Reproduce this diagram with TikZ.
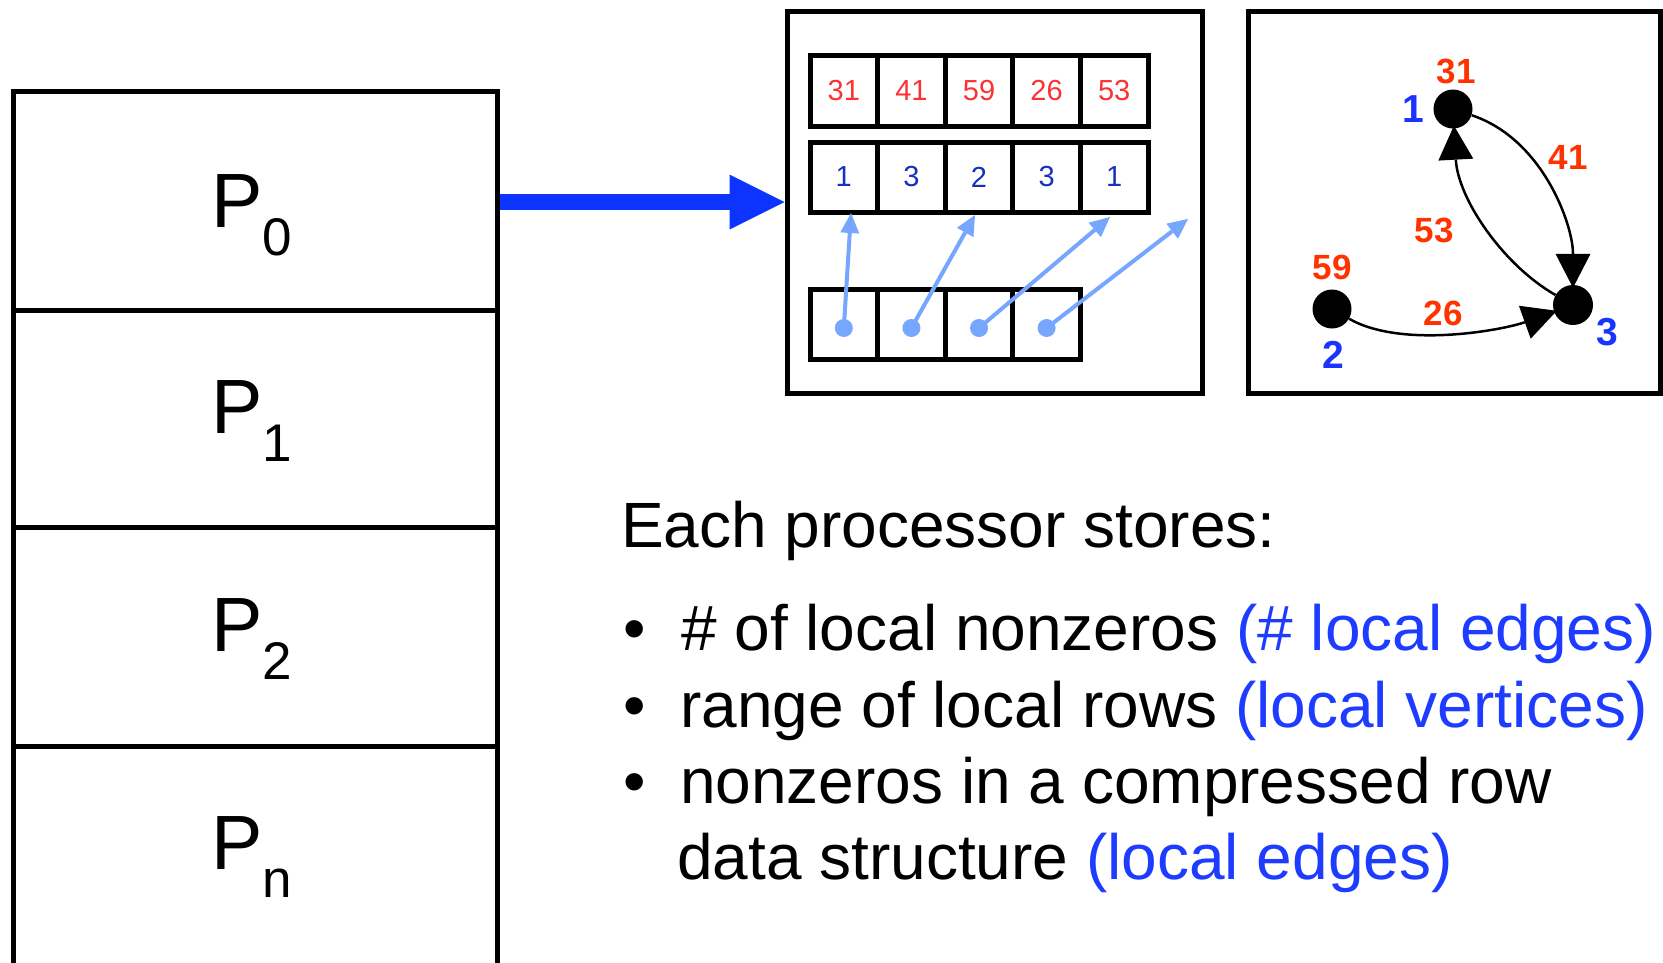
\documentclass[tikz,border=0pt]{standalone}
\usepackage{fontspec}
\setmainfont{Liberation Sans}
\usetikzlibrary{arrows.meta}
\definecolor{arred}{RGB}{250,50,50}
\definecolor{arblue}{RGB}{20,50,190}
\definecolor{gred}{RGB}{255,51,0}
\definecolor{gblue}{RGB}{26,51,255}
\definecolor{bigblue}{RGB}{13,51,255}
\definecolor{tblue}{RGB}{30,60,255}
\definecolor{lblue}{RGB}{119,166,255}
\newcommand\psub[1]{\raisebox{-28pt}{\fontsize{53}{60}\selectfont #1}}
\begin{document}
\begin{tikzpicture}[x=1pt,y=-1pt,
  pcell/.style={draw, line width=5pt, minimum width=484pt, inner sep=0pt, rectangle},
  plab/.style={anchor=base west, inner sep=0pt, font=\fontsize{77}{90}\selectfont},
  frame/.style={draw, line width=5pt, inner sep=0pt, rectangle},
  acell/.style={draw, line width=5pt, minimum width=67.6pt, inner sep=0pt, rectangle, font=\fontsize{29}{30}\selectfont},
  dotn/.style={circle, fill=lblue, minimum size=18pt, inner sep=0pt},
  larrow/.style={draw=lblue, line width=4pt, -{Triangle[length=20pt,width=19pt,line width=0pt]}},
  gnode/.style={circle, fill=black, minimum size=39pt, inner sep=0pt},
  gedge/.style={line width=2.5pt, -{Triangle[length=34pt,width=35pt,line width=0pt]}, shorten >=-3pt},
  rlab/.style={inner sep=0pt, text=gred, font=\fontsize{35}{36}\selectfont\bfseries},
  blab/.style={inner sep=0pt, text=gblue, font=\fontsize{39}{40}\selectfont\bfseries},
  txt/.style={anchor=base west, inner sep=0pt, font=\fontsize{64}{70}\selectfont}
]
\useasboundingbox[fill=white] (0,0) rectangle (1663,962);

% processor stack
\node[pcell, minimum height=219pt] (p0) at (255,200.5) {};
\node[pcell, minimum height=217pt] (p1) at (255,418.5) {};
\node[pcell, minimum height=219pt] (p2) at (255,636.5) {};
\node[pcell, minimum height=230pt] (p3) at (255,861) {};
\node[plab] (lp0) at (211,227) {P\psub{0}};
\node[plab] (lp1) at (211,433) {P\psub{1}};
\node[plab] (lp2) at (211,651) {P\psub{2}};
\node[plab] (lp3) at (211,869) {P\psub{n}};

% frames
\node[frame, minimum width=415pt, minimum height=382pt] (mbox) at (994.5,202) {};
\node[frame, minimum width=412pt, minimum height=382pt] (gbox) at (1454,202) {};

% big arrow
\draw[bigblue, line width=16pt, -{Triangle[length=55pt,width=55pt,line width=0pt]}]
  (p0.east |- mbox.west) -- (mbox.west);

% arrays
\node[acell, minimum height=71pt, text=arred] (a1) at (843.8,90.5) {31};
\node[acell, minimum height=71pt, text=arred] (a2) at (911.4,90.5) {41};
\node[acell, minimum height=71pt, text=arred] (a3) at (979.0,90.5) {59};
\node[acell, minimum height=71pt, text=arred] (a4) at (1046.6,90.5) {26};
\node[acell, minimum height=71pt, text=arred] (a5) at (1114.2,90.5) {53};
\node[acell, minimum height=70pt, text=arblue] (b1) at (843.8,177) {1};
\node[acell, minimum height=70pt, text=arblue] (b2) at (911.4,177) {3};
\node[acell, minimum height=70pt, text=arblue] (b3) at (979.0,177) {2};
\node[acell, minimum height=70pt, text=arblue] (b4) at (1046.6,177) {3};
\node[acell, minimum height=70pt, text=arblue] (b5) at (1114.2,177) {1};
\node[acell, minimum height=70pt] (c1) at (843.8,324) {};
\node[acell, minimum height=70pt] (c2) at (911.4,324) {};
\node[acell, minimum height=70pt] (c3) at (979.0,324) {};
\node[acell, minimum height=70pt] (c4) at (1046.6,324) {};

% pointers
\node[dotn] (d1) at (843.8,328) {};
\node[dotn] (d2) at (911.4,328) {};
\node[dotn] (d3) at (979.0,328) {};
\node[dotn] (d4) at (1046.6,328) {};
\coordinate (t1) at (851,213);
\coordinate (t2) at (975,215);
\coordinate (t3) at (1110,217);
\coordinate (t4) at (1188,219);
\draw[larrow] (d1.center) -- (t1);
\draw[larrow] (d2.center) -- (t2);
\draw[larrow] (d3.center) -- (t3);
\draw[larrow] (d4.center) -- (t4);

% graph
\node[gnode] (n1) at (1453,109) {};
\node[gnode] (n2) at (1332,309) {};
\node[gnode, minimum size=40pt] (n3) at (1573,305) {};
\draw[gedge] (n1) .. controls +(90,30) and +(0,-80) .. (n3);
\draw[gedge] (n3) .. controls +(-70,-40) and +(5,90) .. (n1);
\draw[gedge] (n2) .. controls +(70,40) and +(-70,25) .. (n3);
\node[rlab] (w31) at (1456,71) {31};
\node[rlab] (w41) at (1568,157) {41};
\node[rlab] (w53) at (1434,230) {53};
\node[rlab] (w59) at (1332,267) {59};
\node[rlab] (w26) at (1443,313) {26};
\node[blab] (v1) at (1413,109) {1};
\node[blab] (v2) at (1333,355) {2};
\node[blab] (v3) at (1607,332) {3};

% text
\node[txt] (h) at (621,547) {Each processor stores:};
\node[txt] (u1) at (623,650) {•};
\node[txt] (u2) at (623,727) {•};
\node[txt] (u3) at (623,803) {•};
\node[txt] (l1) at (681,650) {\# of local nonzeros \textcolor{tblue}{(\# local edges)}};
\node[txt] (l2) at (680,727) {range of local rows \textcolor{tblue}{(local vertices)}};
\node[txt] (l3) at (680,803) {nonzeros in a compressed row};
\node[txt] (l4) at (677,879) {data structure \textcolor{tblue}{(local edges)}};
\end{tikzpicture}
\end{document}
